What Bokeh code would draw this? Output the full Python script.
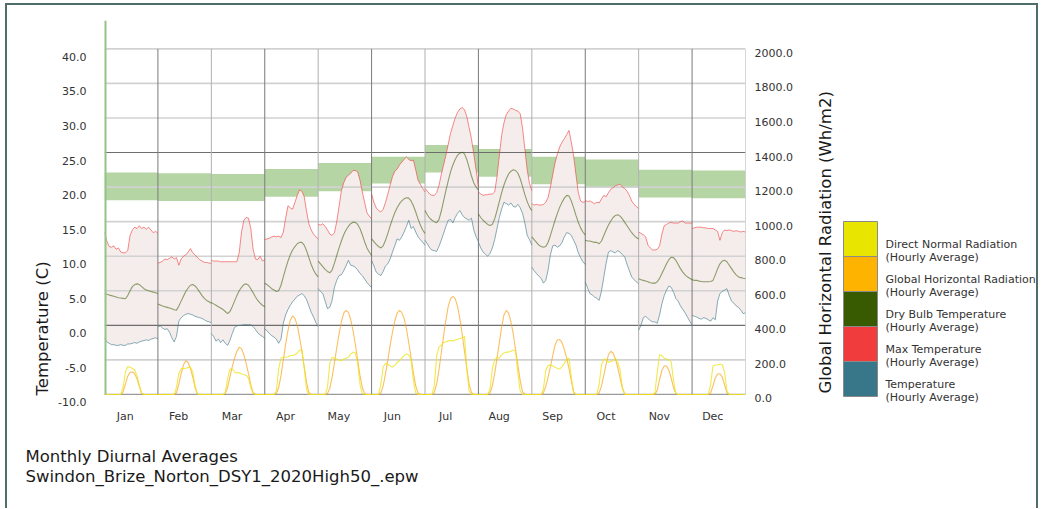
from bokeh.plotting import figure
from bokeh.models import Range1d, LinearAxis, FixedTicker, CustomJSTickFormatter, Title
from bokeh.layouts import row
from bokeh.embed import file_html
from bokeh.resources import INLINE
from bokeh.core.properties import value
import math

months = ["Jan", "Feb", "Mar", "Apr", "May", "Jun", "Jul", "Aug", "Sep", "Oct", "Nov", "Dec"]
temp_ticks = [-10, -5, 0, 5, 10, 15, 20, 25, 30, 35, 40]
rad_ticks = [0, 200, 400, 600, 800, 1000, 1200, 1400, 1600, 1800, 2000]

# comfort band per month (C)
comfort_low = [18.1, 18.0, 18.0, 18.6, 19.4, 20.5, 22.1, 21.5, 20.4, 20.0, 18.5, 18.4]
comfort_high = [22.1, 22.0, 21.9, 22.6, 23.5, 24.4, 26.1, 25.5, 24.4, 24.0, 22.5, 22.4]

# hourly averages (24 per month, Jan..Dec)
max_temp = [
    13.5, 12.2, 11.4, 11.3, 11.5, 11.0, 11.2, 10.6, 10.5, 10.5, 10.8, 13.0, 13.8, 14.2, 14.0, 14.4, 14.0, 14.2, 13.9, 14.2, 13.8, 13.4, 13.6, 13.3,
    9.0, 9.1, 9.3, 9.6, 9.5, 9.7, 9.9, 9.6, 9.8, 8.7, 9.6, 10.0, 10.2, 10.6, 11.1, 10.5, 10.2, 9.8, 9.5, 9.3, 9.1, 9.1, 9.0, 9.0,
    9.4, 9.3, 9.3, 9.3, 9.2, 9.2, 9.2, 9.2, 9.2, 9.2, 9.2, 9.2, 10.5, 13.5, 15.2, 15.6, 15.5, 14.0, 11.0, 9.6, 9.5, 10.0, 9.3, 9.5,
    12.4, 12.5, 12.6, 12.8, 12.9, 12.8, 12.9, 12.7, 13.5, 15.5, 17.3, 17.0, 16.8, 17.8, 18.8, 19.6, 19.4, 18.6, 16.5, 14.7, 13.8, 13.2, 12.8, 12.5,
    14.6, 14.5, 14.7, 14.3, 13.8, 13.2, 13.0, 13.4, 15.0, 17.2, 19.5, 20.6, 21.4, 21.7, 22.0, 22.4, 22.4, 22.2, 21.0, 19.3, 17.8, 16.3, 15.8, 15.4,
    19.0, 17.8, 17.0, 16.6, 16.4, 16.8, 17.8, 19.0, 20.3, 21.5, 22.3, 22.6, 23.2, 23.6, 24.0, 24.4, 24.0, 23.8, 23.9, 22.5, 21.0, 20.4, 19.8, 19.3,
    19.8, 19.4, 19.0, 18.8, 18.8, 19.2, 20.2, 21.8, 23.2, 24.6, 26.2, 27.8, 28.9, 30.0, 30.8, 31.3, 31.5, 31.2, 30.2, 28.6, 27.0, 24.8, 22.5, 20.0,
    19.3, 19.0, 18.8, 18.9, 18.9, 19.0, 19.0, 19.3, 21.5, 24.5, 27.5, 29.3, 30.5, 31.0, 31.4, 31.3, 31.1, 31.0, 30.6, 28.5, 25.5, 22.5, 20.5, 19.5,
    17.6, 17.4, 17.5, 17.4, 17.4, 17.5, 17.8, 18.5, 20.0, 21.8, 23.5, 24.8, 25.8, 26.5, 27.0, 27.6, 28.2, 26.5, 24.5, 21.8, 19.2, 18.0, 17.8, 17.9,
    18.1, 17.9, 18.0, 17.8, 17.6, 17.8, 17.7, 18.3, 18.8, 18.6, 19.2, 19.7, 19.9, 20.2, 20.3, 20.4, 20.0, 19.8, 19.4, 18.8, 18.0, 17.5, 17.2, 16.9,
    13.5, 13.3, 13.1, 12.8, 11.6, 11.2, 10.9, 10.9, 11.0, 11.5, 13.2, 14.4, 14.6, 14.8, 14.9, 14.8, 14.8, 14.8, 15.0, 15.1, 14.8, 14.8, 14.8, 14.8,
    14.0, 14.1, 14.2, 14.2, 14.2, 14.1, 14.1, 14.0, 14.0, 14.0, 13.8, 13.6, 12.3, 13.4, 13.8, 13.7, 13.8, 13.7, 13.6, 13.7, 13.6, 13.5, 13.6, 13.5,
]
dry_bulb = [
    4.6, 4.5, 4.4, 4.3, 4.2, 4.1, 4.0, 3.95, 3.9, 3.85, 4.3, 5.0, 5.6, 5.9, 6.0, 5.9, 5.6, 5.3, 5.1, 5.0, 4.9, 4.8, 4.7, 4.6,
    3.1, 2.95, 2.8, 2.7, 2.6, 2.5, 2.4, 2.25, 2.2, 2.8, 3.5, 4.2, 4.9, 5.4, 5.8, 5.9, 5.7, 5.3, 4.8, 4.3, 3.9, 3.6, 3.4, 3.2,
    3.3, 3.1, 2.9, 2.7, 2.5, 2.3, 2.0, 1.7, 2.0, 2.7, 3.5, 4.3, 5.0, 5.5, 5.9, 6.0, 5.8, 5.3, 4.7, 4.1, 3.6, 3.2, 2.9, 2.7,
    6.1, 5.9, 5.6, 5.3, 5.1, 4.9, 5.0, 5.8, 7.0, 8.2, 9.3, 10.2, 10.9, 11.4, 11.8, 12.0, 12.0, 11.6, 10.8, 9.8, 8.8, 8.0, 7.4, 7.0,
    9.3, 8.9, 8.5, 8.1, 7.8, 7.6, 8.0, 9.0, 10.1, 11.2, 12.2, 13.1, 13.8, 14.3, 14.7, 14.9, 14.9, 14.6, 14.0, 13.1, 12.1, 11.2, 10.6, 10.1,
    12.5, 12.1, 11.7, 11.4, 11.2, 11.5, 12.3, 13.3, 14.4, 15.4, 16.3, 17.0, 17.6, 18.0, 18.3, 18.45, 18.4, 18.0, 17.3, 16.4, 15.4, 14.5, 13.8, 13.3,
    16.6, 16.0, 15.5, 15.2, 15.0, 14.85, 15.3, 16.5, 18.0, 19.5, 20.9, 22.2, 23.2, 24.0, 24.6, 24.9, 25.05, 24.8, 24.0, 22.8, 21.6, 20.6, 20.0, 19.6,
    16.1, 15.6, 15.2, 14.9, 14.6, 14.45, 14.6, 15.4, 16.6, 17.9, 19.2, 20.3, 21.2, 21.9, 22.3, 22.5, 22.4, 22.0, 21.2, 20.1, 18.9, 17.9, 17.1, 16.6,
    12.8, 12.4, 12.0, 11.6, 11.4, 11.3, 11.4, 12.0, 13.0, 14.1, 15.2, 16.2, 17.1, 17.8, 18.4, 18.8, 18.7, 18.0, 17.0, 15.9, 14.9, 14.1, 13.5, 13.1,
    12.3, 12.2, 12.2, 12.1, 12.0, 12.0, 11.8, 12.2, 13.0, 13.8, 14.5, 15.1, 15.6, 15.9, 16.0, 15.8, 15.4, 14.9, 14.4, 13.9, 13.4, 13.0, 12.7, 12.5,
    6.75, 6.6, 6.5, 6.4, 6.3, 6.15, 6.1, 6.1, 6.3, 6.8, 7.5, 8.2, 8.9, 9.5, 9.85, 9.8, 9.4, 8.8, 8.2, 7.7, 7.3, 7.0, 6.8, 6.6,
    6.6, 6.5, 6.5, 6.4, 6.35, 6.3, 6.3, 6.3, 6.35, 6.5, 7.3, 8.2, 8.9, 9.3, 9.4, 9.2, 8.7, 8.2, 7.7, 7.3, 7.0, 6.9, 6.8, 6.75,
]
min_temp = [
    -1.9, -2.4, -2.6, -2.8, -2.8, -2.9, -2.9, -2.8, -2.9, -2.9, -2.7, -2.7, -2.6, -2.5, -2.6, -2.4, -2.3, -2.2, -2.1, -2.2, -2.0, -1.9, -1.8, -2.0,
    -0.2, -0.1, -0.4, -0.6, -0.5, -1.0, -1.8, -2.4, -1.6, 0.6, 1.1, 1.4, 1.6, 1.7, 1.6, 1.5, 1.3, 1.2, 1.1, 1.0, 0.8, 0.6, 0.5, 0.4,
    -1.2, -1.6, -2.3, -2.0, -2.5, -2.1, -2.6, -2.9, -2.2, -1.2, -0.3, -0.1, 0.0, 0.0, 0.1, 0.1, 0.1, 0.1, -0.2, -0.6, -1.1, -1.4, -1.6, -1.9,
    -0.5, -0.8, -1.2, -1.5, -1.7, -2.0, -2.6, -2.0, 0.3, 1.5, 2.3, 2.9, 3.4, 3.8, 4.2, 4.4, 4.6, 4.3, 3.7, 2.8, 1.9, 1.2, 0.4, -0.2,
    5.3, 4.9, 4.6, 3.5, 2.4, 2.6, 3.6, 5.5, 6.5, 7.2, 7.3, 7.9, 8.6, 9.4, 8.7, 8.6, 8.4, 8.0, 7.5, 7.2, 6.7, 6.2, 5.8, 5.5,
    9.4, 8.6, 7.7, 7.4, 7.2, 7.8, 8.6, 8.9, 9.6, 10.6, 11.5, 12.5, 12.3, 12.8, 13.5, 14.3, 15.2, 14.0, 14.3, 13.5, 12.8, 12.4, 12.0, 11.6,
    12.3, 11.8, 11.2, 10.9, 10.8, 10.7, 11.4, 12.3, 13.3, 14.3, 15.2, 15.3, 14.8, 15.6, 16.2, 16.6, 16.0, 15.6, 15.4, 15.2, 15.5, 13.8, 12.8, 12.1,
    12.0, 11.2, 10.6, 10.3, 10.0, 10.4, 11.2, 12.4, 14.0, 15.6, 16.8, 17.8, 17.6, 17.4, 17.7, 17.2, 17.1, 17.5, 17.0, 16.2, 14.8, 13.0, 12.4, 11.6,
    8.4, 7.9, 7.5, 7.1, 6.8, 6.1, 6.5, 8.0, 10.2, 11.5, 11.6, 11.3, 11.5, 12.0, 12.8, 13.4, 13.3, 13.0, 12.3, 11.6, 10.5, 9.8, 9.2, 8.8,
    6.3, 5.4, 4.6, 4.4, 4.1, 3.9, 3.6, 5.0, 7.0, 9.0, 10.6, 10.8, 10.6, 10.5, 10.8, 10.6, 10.2, 9.9, 8.8, 7.9, 7.0, 6.6, 6.3, 6.0,
    -0.7, 0.0, 1.1, 1.3, 1.0, 0.7, 0.5, 0.5, 0.3, 1.5, 3.1, 4.3, 5.1, 5.7, 5.5, 4.8, 3.9, 3.5, 2.8, 2.3, 1.8, 1.2, 0.6, 0.0,
    1.45, 1.3, 1.2, 1.0, 0.9, 1.1, 1.0, 0.8, 0.6, 1.1, 0.8, 3.5, 4.6, 4.9, 5.1, 5.3, 4.3, 3.5, 3.2, 2.8, 2.6, 2.2, 1.7, 1.8,
]
global_horiz = [
    0, 0, 0, 0, 0, 0, 0, 0, 15, 60, 105, 128, 130, 120, 90, 45, 5, 0, 0, 0, 0, 0, 0, 0,
    0, 0, 0, 0, 0, 0, 0, 0, 10, 60, 120, 170, 195, 185, 150, 100, 40, 3, 0, 0, 0, 0, 0, 0,
    0, 0, 0, 0, 0, 0, 5, 40, 100, 160, 210, 250, 273, 265, 230, 180, 120, 55, 10, 0, 0, 0, 0, 0,
    0, 0, 0, 0, 0, 5, 40, 110, 200, 290, 370, 430, 455, 440, 400, 330, 250, 160, 70, 10, 0, 0, 0, 0,
    0, 0, 0, 0, 5, 35, 100, 180, 270, 350, 420, 470, 486, 475, 435, 370, 290, 200, 110, 40, 5, 0, 0, 0,
    0, 0, 0, 0, 10, 50, 120, 200, 285, 360, 425, 470, 486, 475, 440, 380, 300, 215, 125, 50, 8, 0, 0, 0,
    0, 0, 0, 0, 10, 60, 140, 240, 340, 430, 510, 555, 568, 555, 510, 440, 350, 250, 150, 60, 10, 0, 0, 0,
    0, 0, 0, 0, 0, 10, 50, 120, 210, 300, 390, 460, 486, 470, 420, 350, 260, 170, 80, 15, 0, 0, 0, 0,
    0, 0, 0, 0, 0, 10, 45, 100, 160, 225, 285, 315, 318, 300, 260, 210, 150, 80, 15, 0, 0, 0, 0, 0,
    0, 0, 0, 0, 0, 0, 10, 50, 110, 175, 230, 250, 240, 205, 155, 95, 35, 3, 0, 0, 0, 0, 0, 0,
    0, 0, 0, 0, 0, 0, 0, 0, 25, 85, 140, 165, 165, 140, 95, 40, 5, 0, 0, 0, 0, 0, 0, 0,
    0, 0, 0, 0, 0, 0, 0, 0, 10, 50, 95, 118, 120, 100, 55, 10, 0, 0, 0, 0, 0, 0, 0, 0,
]
direct_normal = [
    0, 0, 0, 0, 0, 0, 0, 0, 40, 130, 160, 158, 150, 140, 110, 55, 5, 0, 0, 0, 0, 0, 0, 0,
    0, 0, 0, 0, 0, 0, 0, 0, 40, 120, 148, 150, 152, 155, 158, 130, 50, 3, 0, 0, 0, 0, 0, 0,
    0, 0, 0, 0, 0, 0, 10, 90, 145, 150, 130, 125, 125, 118, 115, 110, 95, 40, 5, 0, 0, 0, 0, 0,
    0, 0, 0, 0, 0, 20, 150, 210, 215, 215, 218, 225, 225, 230, 240, 255, 262, 150, 30, 0, 0, 0, 0, 0,
    0, 0, 0, 0, 40, 180, 215, 210, 205, 198, 195, 205, 210, 215, 235, 245, 240, 180, 60, 5, 0, 0, 0, 0,
    0, 0, 0, 0, 60, 160, 180, 175, 165, 158, 170, 185, 195, 210, 225, 235, 230, 200, 80, 10, 0, 0, 0, 0,
    0, 0, 0, 0, 50, 220, 275, 285, 300, 305, 310, 312, 310, 315, 320, 322, 330, 335, 150, 20, 0, 0, 0, 0,
    0, 0, 0, 0, 0, 30, 150, 200, 215, 210, 230, 240, 245, 245, 250, 258, 250, 120, 20, 0, 0, 0, 0, 0,
    0, 0, 0, 0, 0, 30, 140, 168, 170, 165, 158, 150, 148, 160, 180, 205, 210, 100, 10, 0, 0, 0, 0, 0,
    0, 0, 0, 0, 0, 0, 60, 170, 205, 200, 185, 190, 195, 210, 185, 140, 40, 0, 0, 0, 0, 0, 0, 0,
    0, 0, 0, 0, 0, 0, 0, 10, 130, 230, 225, 210, 205, 200, 190, 80, 5, 0, 0, 0, 0, 0, 0, 0,
    0, 0, 0, 0, 0, 0, 0, 0, 60, 165, 170, 170, 175, 172, 130, 20, 0, 0, 0, 0, 0, 0, 0, 0,
]

legend_labels = ["Direct Normal Radiation", "Global Horizontal Radiation", "Dry Bulb Temperature",
                 "Max Temperature", "Temperature"]
legend_sub = "(Hourly Average)"
legend_colors = ["#e8e500", "#fdb300", "#385a00", "#f03c3c", "#387689"]
right_title = "Global Horizontal Radiation (Wh/m2)"

FONT = "DejaVu Sans"
T_LO, T_HI = -11.6, 44.1
FIG_W, FIG_H = 803, 503
MB_L, MB_R, MB_T, MB_B = 97, 65, 15, 103
FRAME_H = FIG_H - MB_T - MB_B
px_per_unit = FRAME_H / (T_HI - T_LO)
RAD_PER_C = 40.0


def to_rad(t):
    return (t + 10) * RAD_PER_C


def month_x(m):
    return [24 * m + h * 24 / 23 for h in range(24)]


def split(series):
    return [series[24 * m:24 * m + 24] for m in range(12)]


xs = [month_x(m) for m in range(12)]

p = figure(width=FIG_W, height=FIG_H, title=None,
           x_range=Range1d(0, 288), y_range=Range1d(T_LO, T_HI),
           output_backend="svg", toolbar_location=None,
           min_border_left=MB_L, min_border_right=MB_R,
           min_border_top=MB_T, min_border_bottom=MB_B)
p.extra_y_ranges = {"rad": Range1d(to_rad(T_LO), to_rad(T_HI))}
p.outline_line_color = None
p.xgrid.visible = False
p.ygrid.visible = False

# comfort band
p.quad(left=[24 * m for m in range(12)], right=[24 * m + 24 for m in range(12)],
       bottom=comfort_low, top=comfort_high, fill_color="#b5d5a4", line_color=None)

# max-min band
band_xs = [x + x[::-1] for x in xs]
band_ys = [hi + lo[::-1] for hi, lo in zip(split(max_temp), split(min_temp))]
p.patches(band_xs, band_ys, fill_color="#f5edeb", line_color=None)

# grid lines
grid_colors = ["#9a9a9a" if t == -10 else ("#6e6e6e" if t in (0, 25) else "#d2d2d2") for t in temp_ticks]
grid_widths = [1.2 if t in (-10, 0, 25) else 1.6 for t in temp_ticks]
p.segment(x0=[0] * len(temp_ticks), x1=[288] * len(temp_ticks), y0=temp_ticks, y1=temp_ticks,
          line_color=grid_colors, line_width=grid_widths)
bounds = [24 * m for m in range(1, 13)]
bound_colors = ["#7a7a7a" if m % 2 else "#b0b0b0" for m in range(1, 13)]
p.segment(x0=bounds, x1=bounds, y0=[-10] * 12, y1=[40] * 12, line_color=bound_colors, line_width=1)

# radiation lines
p.multi_line(xs, split(global_horiz), y_range_name="rad",
             line_color="#fba41c", line_alpha=0.7, line_width=1.1)
p.multi_line(xs, split(direct_normal), y_range_name="rad",
             line_color="#ece51e", line_alpha=0.8, line_width=1.1)

# temperature lines
p.multi_line(xs, split(max_temp), line_color="#f03c3c", line_alpha=0.6, line_width=1)
p.multi_line(xs, split(dry_bulb), line_color="#385a00", line_alpha=0.55, line_width=1.1)
p.multi_line(xs, split(min_temp), line_color="#387689", line_alpha=0.6, line_width=1)

# green left axis line
p.segment(x0=[0], x1=[0], y0=[-10], y1=[T_HI], line_color="#93c488", line_width=4)


def style_axis(ax, standoff):
    ax.axis_line_color = None
    ax.major_tick_line_color = None
    ax.minor_tick_line_color = None
    ax.major_tick_out = 0
    ax.major_tick_in = 0
    ax.minor_tick_out = 0
    ax.minor_tick_in = 0
    ax.major_label_standoff = standoff
    ax.major_label_text_font = FONT
    ax.major_label_text_font_size = "11px"
    ax.major_label_text_color = "#333333"


# left axis
off_t = 8 / px_per_unit
ya = p.yaxis[0]
ya.ticker = FixedTicker(ticks=[t - off_t for t in temp_ticks])
ya.formatter = CustomJSTickFormatter(args=dict(off=off_t),
                                     code="return (Math.round((tick + off) * 10) / 10).toFixed(1);")
style_axis(ya, 18)

# right axis
off_r = 4 / px_per_unit * RAD_PER_C
ra = LinearAxis(y_range_name="rad")
ra.ticker = FixedTicker(ticks=[r - off_r for r in rad_ticks])
ra.formatter = CustomJSTickFormatter(args=dict(off=off_r),
                                     code="return (Math.round(tick + off)).toFixed(1);")
style_axis(ra, 9)
p.add_layout(ra, "right")

# bottom axis
xa = p.xaxis[0]
xa.ticker = FixedTicker(ticks=[24 * m + 9.3 for m in range(12)])
xa.formatter = CustomJSTickFormatter(args=dict(months=months), code="return months[Math.floor(tick / 24)];")
style_axis(xa, 4)

# titles
p.add_layout(Title(text="Temperature (C)", align="left", offset=10, standoff=8,
                   text_font=FONT, text_font_size="16.5px", text_font_style="normal",
                   text_color="#1a1a1a"), "left")
p.add_layout(Title(text="Monthly Diurnal Averages\nSwindon_Brize_Norton_DSY1_2020High50_.epw",
                   align="left", offset=-79, standoff=38, text_line_height=1.1,
                   text_font=FONT, text_font_size="16.5px", text_font_style="normal",
                   text_color="#1a1a1a"), "below")

# side panel: right axis title + legend (frame aligned with main frame; units are pixels above frame bottom)
LEG_W = 226
leg = figure(width=LEG_W, height=FIG_H, title=None, x_range=Range1d(0, LEG_W), y_range=Range1d(0, FRAME_H),
             output_backend="svg", toolbar_location=None,
             min_border_left=0, min_border_right=0, min_border_top=MB_T, min_border_bottom=MB_B,
             x_axis_location=None, y_axis_location=None)
leg.outline_line_color = None
leg.xgrid.visible = False
leg.ygrid.visible = False

leg.text(x=[15], y=[12], text=[right_title], angle=math.pi / 2, text_align="left", text_baseline="middle",
         text_font=value(FONT), text_font_size="16.5px", text_color="#1a1a1a")

n = len(legend_labels)
tops = [184 - 35 * k for k in range(n)]
leg.quad(left=[33] * n, right=[67] * n, top=tops, bottom=[t - 35 for t in tops],
         fill_color=legend_colors, line_color="#8a8a8a", line_width=1)
leg.text(x=[75] * n, y=[t - 23 for t in tops], text=legend_labels, text_baseline="middle",
         text_font=value(FONT), text_font_size="11px", text_color="#333333")
leg.text(x=[75] * n, y=[t - 36 for t in tops], text=[legend_sub] * n, text_baseline="middle",
         text_font=value(FONT), text_font_size="11px", text_color="#333333")

lay = row(p, leg)
lay.styles = {"margin-left": "5px", "margin-top": "3px",
              "border-top": "2px solid #4f6e69", "border-left": "2px solid #4f6e69",
              "border-right": "2px solid #4f6e69"}

open("out.html", "w").write(file_html(lay, INLINE))
